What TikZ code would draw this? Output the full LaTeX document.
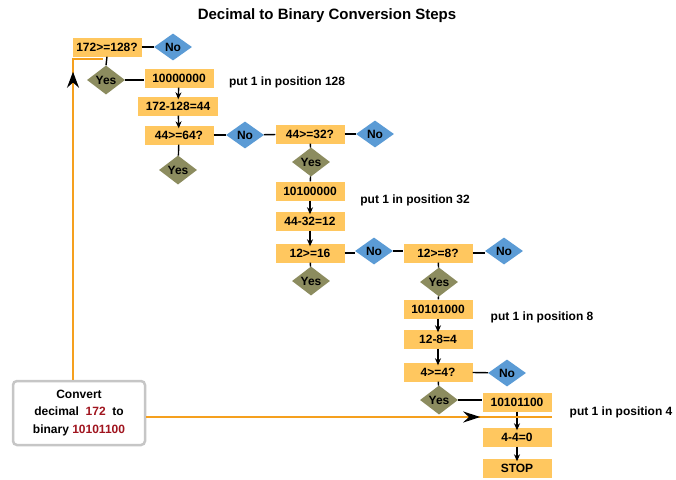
\documentclass[tikz,border=0pt]{standalone}
\usepackage{fontspec}
\setmainfont{Liberation Sans}
\usetikzlibrary{shapes.geometric,arrows.meta,decorations.markings}
\definecolor{boxc}{RGB}{255,199,95}
\definecolor{noc}{RGB}{91,155,213}
\definecolor{yesc}{RGB}{140,140,95}
\definecolor{orl}{RGB}{245,160,30}
\definecolor{dred}{RGB}{160,20,30}
\begin{document}
\begin{tikzpicture}[x=1pt,y=-1pt,
 font=\fontsize{12}{14}\selectfont\bfseries,
 obox/.style={fill=boxc, minimum width=69, minimum height=19, inner sep=0},
 nod/.style={diamond, fill=noc, minimum width=38, minimum height=27, inner sep=0},
 yesd/.style={diamond, fill=yesc, minimum width=38, minimum height=27, inner sep=0},
 conn/.style={line width=1.4, black},
 arr/.style={conn, -{Stealth[length=7pt,width=6pt]}, shorten >=-3pt},
 olin/.style={orl, line width=1.6}
]
\useasboundingbox (0,0) rectangle (676,479);

\node (title) at (327,16) {\fontsize{15}{17}\selectfont Decimal to Binary Conversion Steps};

% column 1
\node[obox] (q128) at (107,47) {172>=128?};
\node[nod] (no1) at (173,47) {No};
\node[yesd] (yes1) at (106,80) {Yes};
\node[obox] (r128) at (179,78) {10000000};
\node (p128) at (287,82) {put 1 in position 128};
\node[obox, minimum width=80] (s128) at (178,106) {172-128=44};
\node[obox] (q64) at (179,135) {44>=64?};
\node[nod] (no2) at (245,135) {No};
\node[yesd] (yes2) at (178,170) {Yes};

% column 2
\node[obox] (q32) at (310,134) {44>=32?};
\node[nod] (no3) at (375,134) {No};
\node[yesd] (yes3) at (311,162) {Yes};
\node[obox] (r32) at (310,191) {10100000};
\node (p32) at (415,200) {put 1 in position 32};
\node[obox] (s32) at (310,221) {44-32=12};
\node[obox] (q16) at (310,253) {12>=16};
\node[nod] (no4) at (374,251) {No};
\node[yesd] (yes4) at (311,281) {Yes};

% column 3
\node[obox] (q8) at (438,253) {12>=8?};
\node[nod] (no5) at (504,251) {No};
\node[yesd] (yes5) at (439,282) {Yes};
\node[obox] (r8) at (438,309) {10101000};
\node (p8) at (542,317) {put 1 in position 8};
\node[obox] (s8) at (438,339) {12-8=4};
\node[obox] (q4) at (438,372) {4>=4?};
\node[nod] (no6) at (507,373) {No};
\node[yesd] (yes6) at (439,400) {Yes};

% column 4
\node[obox] (r4) at (517,402) {10101100};
\node (p4) at (621,412) {put 1 in position 4};
\node[obox] (s4) at (517,437) {4-4=0};
\node[obox] (stop) at (517,468) {STOP};

% start box
\node[draw=gray!45, line width=2.5, rounded corners=4, fill=white,
      minimum width=132, minimum height=64, align=center,
      font=\fontsize{12}{17.5}\selectfont\bfseries] (conv) at (79,413)
      {Convert\\decimal \ \textcolor{dred}{172} \ to\\binary \textcolor{dred}{10101100}};

% black connectors
\draw[conn] (q128) -- (no1);
\draw[conn] (q128.south) -- (yes1.north);
\draw[conn] (yes1.east) -- (yes1.east -| r128.west);
\draw[arr] (r128) -- (s128);
\draw[arr] (s128) -- (q64);
\draw[conn] (q64) -- (no2);
\draw[conn] (no2) -- (q32);
\draw[conn] (q64) -- (yes2);
\draw[conn] (q32) -- (no3);
\draw[conn] (q32) -- (yes3);
\draw[conn] (yes3) -- (r32);
\draw[arr] (r32) -- (s32);
\draw[arr] (s32) -- (q16);
\draw[conn] (q16.east) -- (q16.east -| no4.west);
\draw[conn] (no4.east) -- (no4.east -| q8.west);
\draw[conn] (q8.east) -- (q8.east -| no5.west);
\draw[conn] (q16) -- (yes4);
\draw[conn] (q8) -- (yes5);
\draw[conn] (yes5) -- (r8);
\draw[arr] (r8) -- (s8);
\draw[arr] (s8) -- (q4);
\draw[conn] (q4) -- (no6);
\draw[conn] (q4) -- (yes6);
\draw[conn] (yes6.east) -- (yes6.east -| r4.west);
\draw[arr] (r4) -- (s4);
\draw[arr] (s4) -- (stop);

% orange connectors
\coordinate (c1) at (73,59);
\coordinate (c2) at (103,59);
\coordinate (c3) at (552,417);
\draw[olin, decoration={markings, mark=at position 308pt with {\arrow{Stealth[length=16pt,width=12pt,black]}}}, postaction=decorate]
  ([xshift=-6pt]conv.north) -- (c1) -- (c2);
\draw[olin, decoration={markings, mark=at position 334pt with {\arrow{Stealth[length=17pt,width=11pt,black]}}}, postaction=decorate]
  ([yshift=-4pt]conv.east) -- (c3);
\end{tikzpicture}
\end{document}
